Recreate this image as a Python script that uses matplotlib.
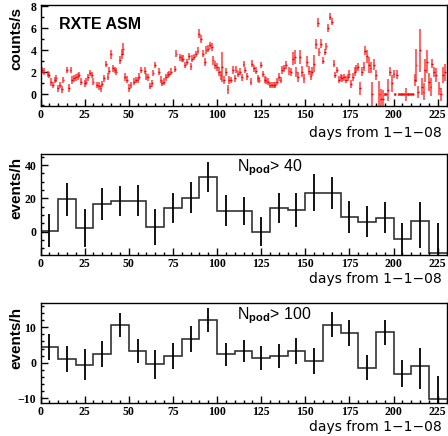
#!/usr/bin/env python3

import matplotlib
matplotlib.use("Agg")
import matplotlib.pyplot as plt
import numpy as np
from matplotlib.ticker import MultipleLocator

# RXTE ASM daily rate (counts/s) vs days from 1-1-08
asm_days = [1, 2, 4, 5, 6, 7, 8, 9, 10, 11, 12, 13, 15, 16, 17, 18, 19, 20, 21, 22,
            23, 25, 26, 27, 28, 29, 30, 32, 33, 34, 35, 36, 37, 38, 39, 40, 41, 42, 43, 45,
            46, 47, 48, 49, 50, 51, 53, 54, 55, 56, 57, 59, 60, 61, 62, 63, 64, 65, 67, 68,
            69, 70, 71, 72, 73, 74, 76, 77, 79, 80, 81, 82, 83, 84, 85, 86, 87, 88, 89, 90,
            91, 92, 93, 94, 95, 96, 97, 98, 99, 100, 101, 102, 103, 104, 105, 106, 107, 108, 109, 110,
            111, 112, 113, 114, 115, 116, 117, 119, 120, 121, 122, 123, 124, 125, 126, 127, 128, 129, 130, 131,
            132, 133, 134, 135, 136, 137, 138, 139, 141, 142, 143, 144, 145, 146, 147, 148, 149, 151, 152, 153,
            154, 155, 156, 157, 158, 159, 160, 161, 162, 163, 164, 165, 166, 167, 168, 169, 170, 171, 172, 173,
            174, 175, 176, 177, 178, 179, 180, 181, 182, 183, 184, 185, 186, 187, 188, 189, 190, 192, 193, 194,
            195, 196, 197, 198, 199, 200, 201, 202, 203, 204, 205, 206, 207, 208, 209, 210, 211, 212, 213, 214,
            215, 216, 217, 218, 219, 220, 221, 222, 223, 224, 226, 227, 228, 229]
asm_rate = [2.2, 2.05, 1.85, 1.75, 1.15, 0.85, 1.3, 1.45, 0.55, 0.85, 0.45, 1.3, 2.2, 0.6, 2.2, 1.3, 1.45, 1.55, 1.65, 1.75,
            1.15, 1.0, 1.15, 1.55, 1.95, 1.75, 1.15, 0.85, 0.75, 0.55, 0.95, 1.45, 2.75, 1.6, 2.15, 3.65, 2.35, 2.2, 2.05, 3.1,
            3.65, 4.15, 1.55, 1.35, 0.55, 0.85, 1.15, 1.3, 1.3, 1.6, 2.2, 2.15, 1.6, 1.55, 0.75, 1.0, 1.95, 2.65, 2.05, 1.35,
            1.05, 1.15, 1.55, 1.75, 1.85, 2.05, 2.3, 3.7, 3.35, 3.25, 3.25, 2.65, 2.95, 3.45, 2.55, 3.25, 3.4, 3.65, 3.95, 5.5,
            5.05, 3.7, 2.95, 4.0, 4.15, 4.45, 4.3, 3.1, 2.65, 2.5, 2.05, 1.75, 2.5, 1.3, 2.05, 0.45, 1.3, 1.3, 2.2, 1.45,
            2.25, 1.85, 2.05, 1.55, 2.75, 2.2, 1.65, 1.15, 2.8, 2.35, 2.15, 1.45, 1.3, 2.65, 1.85, 1.35, 1.25, 1.15, 0.85, 0.85,
            0.85, 0.85, 1.15, 1.6, 1.3, 2.2, 2.35, 2.65, 2.15, 2.05, 3.25, 3.4, 2.05, 1.6, 3.4, 2.05, 1.45, 2.95, 2.15, 1.7,
            2.05, 2.8, 4.6, 6.5, 3.85, 4.6, 3.05, 3.85, 4.35, 6.0, 7.05, 6.6, 2.8, 1.75, 2.2, 1.35, 1.55, 1.45, 1.55, 1.35,
            1.55, 1.85, 0.95, 1.6, 2.05, 2.35, 2.5, 0.55, 2.05, 2.5, 3.95, 3.45, 2.65, 2.4, 0.0, 2.7, 1.75, 0.05, -0.4, -0.4,
            0.0, 0.0, 0.4, 2.05, 1.0, 1.85, 0.0, 1.8, 0.0, 0.0, 0.0, 0.0, 0.0, 0.0, 0.0, 0.0, 0.0, 1.3, 2.65, 0.25,
            4.0, 0.7, 0.25, 2.2, 2.95, 1.15, 0.7, 2.8, 2.05, 1.75, 0.55, 0.0, 1.75, 2.0]
asm_err = [0.3, 0.3, 0.3, 0.3, 0.35, 0.3, 0.3, 0.3, 0.3, 0.3, 0.3, 0.3, 0.3, 0.35, 0.3, 0.35, 0.3, 0.3, 0.3, 0.3,
           0.3, 0.3, 0.3, 0.3, 0.3, 0.3, 0.3, 0.3, 0.35, 0.3, 0.3, 0.3, 0.3, 0.3, 0.3, 0.4, 0.3, 0.3, 0.3, 0.35,
           0.45, 0.55, 0.35, 0.3, 0.35, 0.3, 0.3, 0.3, 0.3, 0.3, 0.3, 0.3, 0.3, 0.3, 0.3, 0.3, 0.3, 0.3, 0.3, 0.3,
           0.3, 0.3, 0.3, 0.3, 0.3, 0.3, 0.3, 0.3, 0.3, 0.3, 0.3, 0.3, 0.3, 0.3, 0.3, 0.3, 0.3, 0.3, 0.3, 0.4,
           0.35, 0.35, 0.35, 0.35, 0.35, 0.3, 0.35, 0.4, 0.35, 0.35, 0.4, 0.4, 1.35, 0.4, 0.35, 0.4, 0.35, 0.3, 0.35, 0.3,
           0.3, 0.3, 0.3, 0.3, 0.3, 0.3, 0.3, 0.3, 0.3, 0.3, 0.3, 0.3, 0.3, 0.3, 0.3, 0.3, 0.3, 0.3, 0.3, 0.3,
           0.3, 0.3, 0.3, 0.35, 0.3, 0.35, 0.35, 0.35, 0.35, 0.35, 0.55, 0.6, 0.45, 0.45, 0.6, 0.5, 0.4, 0.5, 0.4, 0.4,
           0.4, 0.8, 0.45, 0.4, 0.35, 0.4, 0.3, 0.3, 0.35, 0.35, 0.3, 0.35, 0.35, 0.3, 0.3, 0.3, 0.3, 0.3, 0.3, 0.3,
           0.3, 0.35, 0.4, 0.35, 0.4, 0.35, 0.35, 0.6, 0.4, 0.4, 0.4, 0.6, 0.75, 0.5, 1.1, 0.5, 0.45, 1.2, 0.85, 0.8,
           0.1, 0.1, 1.0, 0.4, 0.75, 0.4, 0.1, 0.4, 0.1, 0.1, 0.1, 0.1, 0.6, 0.1, 0.1, 0.1, 0.1, 0.55, 1.5, 0.55,
           1.95, 0.75, 0.75, 1.05, 1.05, 0.8, 0.8, 0.4, 0.45, 0.65, 0.6, 0.6, 0.7, 0.75]

# 10-day bins, 0..230
bin_edges = list(range(0, 240, 10))

# N_pod > 40
n40_rate = [0.6, 19.4, 2.0, 16.4, 18.4, 18.6, 2.6, 14.2, 20.4, 33.0, 12.6, 12.4, 0.0, 14.4, 13.0, 23.4,
            23.4, 8.6, 6.0, 8.4, -4.6, 6.6, -13.0]
n40_err_lo = [10.0, 9.8, 11.4, 9.5, 9.2, 9.3, 10.7, 9.2, 9.3, 9.0, 9.3, 8.5, 8.8, 9.0, 10.0, 11.0,
              9.6, 9.7, 9.4, 9.2, 9.5, 16.6, 18.0]
n40_err_hi = [10.0, 9.8, 11.4, 9.5, 9.2, 9.3, 10.7, 9.2, 9.3, 9.0, 9.3, 8.5, 8.8, 9.0, 10.0, 11.0,
              9.6, 9.7, 9.4, 9.2, 9.5, 11.4, 18.0]

# N_pod > 100
n100_rate = [4.4, 1.1, -0.5, 2.5, 10.7, 3.3, -0.4, 1.9, 6.7, 12.1, 2.45, 3.3, 1.4, 2.0, 3.3, 0.6,
             10.7, 8.3, -1.4, 8.6, -3.0, -0.85, -10.1]
n100_err_lo = [3.6, 3.65, 4.25, 3.6, 3.3, 3.3, 4.0, 3.55, 3.55, 3.35, 3.2, 3.2, 3.3, 3.4, 3.75, 3.65,
               3.5, 3.6, 3.55, 3.5, 3.8, 6.45, 6.3]
n100_err_hi = [3.6, 3.65, 4.25, 3.6, 3.3, 3.3, 4.0, 3.55, 3.55, 3.35, 3.2, 3.2, 3.3, 3.4, 3.75, 3.65,
               3.5, 3.6, 3.55, 3.5, 3.8, 4.95, 6.3]

plt.rcParams["font.family"] = "Liberation Serif"
plt.rcParams["font.weight"] = "bold"
plt.rcParams["mathtext.fontset"] = "custom"
plt.rcParams["mathtext.rm"] = "Liberation Sans"
plt.rcParams["mathtext.it"] = "Liberation Sans:italic"

SANS = "Liberation Sans"
XLABEL = "days from 1\u22121\u221208"


def style_axis(ax, ylim, ymaj, ymin):
    ax.set_xlim(0, 230)
    ax.set_ylim(*ylim)
    ax.xaxis.set_major_locator(MultipleLocator(25))
    ax.xaxis.set_minor_locator(MultipleLocator(5))
    ax.yaxis.set_major_locator(MultipleLocator(ymaj))
    ax.yaxis.set_minor_locator(MultipleLocator(ymin))
    ax.tick_params(which="both", direction="in", top=False, right=False,
                   width=1, labelsize=8.5)
    ax.tick_params(axis="x", pad=2.5)
    ax.tick_params(axis="y", pad=3)
    ax.tick_params(which="major", length=5)
    ax.tick_params(which="minor", length=2.5)
    for s in ax.spines.values():
        s.set_linewidth(1.0)


def draw_hist(ax, rate, lo, hi):
    edges = np.array(bin_edges)
    centers = 0.5 * (edges[:-1] + edges[1:])
    ax.stairs(rate, edges, color="#333333", linewidth=1.2, baseline=None)
    ax.errorbar(centers, rate, yerr=[lo, hi], fmt="none", ecolor="black",
                elinewidth=1.3, capsize=0)


def xlabel(ax, ybase):
    ax.text(0.988, ybase, XLABEL, transform=ax.transAxes, family="DejaVu Sans",
            weight="normal", fontsize=10, va="baseline", ha="right")


fig = plt.figure(figsize=(4.48, 4.36), dpi=100)
left, width = 40.5 / 448, 406 / 448
ax1 = fig.add_axes([left, 1 - 106 / 436, width, 101 / 436])
ax2 = fig.add_axes([left, 1 - 255 / 436, width, 101 / 436])
ax3 = fig.add_axes([left, 1 - 402.7 / 436, width, 100 / 436])

# top: RXTE ASM
ax1.errorbar(asm_days, asm_rate, yerr=asm_err, fmt="none",
             ecolor="#ff2a2a", elinewidth=1.5, capsize=0, alpha=0.7)
ax1.errorbar(asm_days, asm_rate, xerr=0.5, fmt="none",
             ecolor="#ee0000", elinewidth=1.0, capsize=0)
style_axis(ax1, (-1.05, 8.1), 2, 1)
ax1.text(0.046, 0.81, "RXTE ASM", transform=ax1.transAxes, family=SANS,
         weight="bold", fontsize=11.5, va="center", ha="left")
ax1.text(-0.059, 0.98, "counts/s", transform=ax1.transAxes, family=SANS,
         weight="bold", fontsize=11, rotation=90, va="top", ha="center")
xlabel(ax1, -0.302)

# middle: N_pod > 40
draw_hist(ax2, n40_rate, n40_err_lo, n40_err_hi)
style_axis(ax2, (-14, 46.6), 20, 5)
ax2.text(0.483, 0.86, r"N$_{\rm pod}$> 40", transform=ax2.transAxes,
         family=SANS, weight="normal", fontsize=11.5, va="center", ha="left")
ax2.text(-0.059, 0.973, "events/h", transform=ax2.transAxes, family=SANS,
         weight="bold", fontsize=11, rotation=90, va="top", ha="center")
xlabel(ax2, -0.275)

# bottom: N_pod > 100
draw_hist(ax3, n100_rate, n100_err_lo, n100_err_hi)
style_axis(ax3, (-11.2, 16.9), 10, 2)
ax3.text(0.483, 0.867, r"N$_{\rm pod}$> 100", transform=ax3.transAxes,
         family=SANS, weight="normal", fontsize=11.5, va="center", ha="left")
ax3.text(-0.059, 0.96, "events/h", transform=ax3.transAxes, family=SANS,
         weight="bold", fontsize=11, rotation=90, va="top", ha="center")
xlabel(ax3, -0.28)

fig.savefig("out.png", dpi=100)
